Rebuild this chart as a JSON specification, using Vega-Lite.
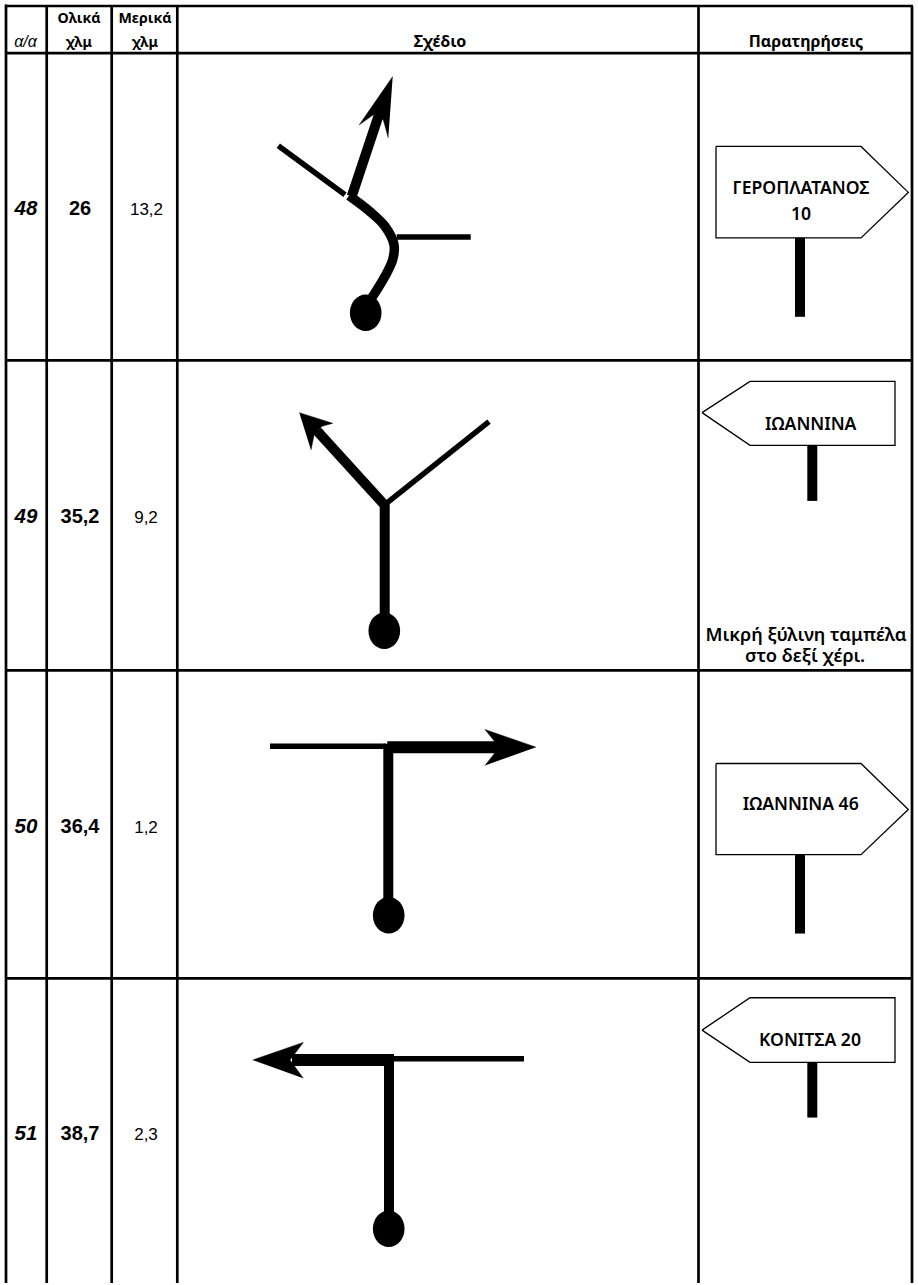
{"$schema":"https://vega.github.io/schema/vega-lite/v6.json","width":918,"height":1285,"padding":0,"autosize":{"type":"fit","contains":"padding"},"background":"white","config":{"view":{"stroke":null}},
"datasets":{
"grid":[{"x":6,"y":4.5,"x2":6,"y2":1285},{"x":46.7,"y":6,"x2":46.7,"y2":1285},{"x":111.7,"y":6,"x2":111.7,"y2":1285},{"x":177.3,"y":6,"x2":177.3,"y2":1285},{"x":698.5,"y":6,"x2":698.5,"y2":1285},{"x":912,"y":6,"x2":912,"y2":1285},{"x":5,"y":6,"x2":913,"y2":6},{"x":5,"y":53.3,"x2":913,"y2":53.3},{"x":5,"y":361,"x2":913,"y2":361},{"x":5,"y":671.5,"x2":913,"y2":671.5},{"x":5,"y":980,"x2":913,"y2":980}],
"posts":[{"x":800,"y":238.3,"x2":800,"y2":317.3},{"x":812.3,"y":446,"x2":812.3,"y2":501.7},{"x":800,"y":856,"x2":800,"y2":935},{"x":812.3,"y":1064,"x2":812.3,"y2":1119.3}],
"thin":[{"x":278.3,"y":146,"x2":345,"y2":195},{"x":396.7,"y":237.3,"x2":470.7,"y2":237.3},{"x":386.7,"y":504,"x2":489,"y2":422.3},{"x":270,"y":747.3,"x2":386,"y2":747.3},{"x":390,"y":1060.3,"x2":524,"y2":1060.3}],
"curve":[{"i":0,"x":349,"y":196},{"i":1,"x":370,"y":212},{"i":2,"x":385,"y":226.7},{"i":3,"x":394,"y":245},{"i":4,"x":392.7,"y":260},{"i":5,"x":385,"y":276.7},{"i":6,"x":372,"y":298}],
"thick":[{"id":"a","i":0,"x":378.3,"y":116.7},{"id":"a","i":1,"x":351.7,"y":196.7},
{"id":"c","i":0,"x":317.3,"y":431.7},{"id":"c","i":1,"x":384.7,"y":506},{"id":"c","i":2,"x":384.7,"y":615},
{"id":"d","i":0,"x":388.3,"y":745},{"id":"d","i":1,"x":388.3,"y":902},
{"id":"g","i":0,"x":389,"y":1062},{"id":"g","i":1,"x":389,"y":1217}],
"bars":[{"x":387.3,"y":748.3,"x2":500,"y2":748.3},{"x":292,"y":1061.7,"x2":394,"y2":1061.7}],
"heads":[{"id":"a","i":0,"x":392.7,"y":76.7},{"id":"a","i":1,"x":359.3,"y":125},{"id":"a","i":2,"x":373.3,"y":115},{"id":"a","i":3,"x":383.3,"y":120},{"id":"a","i":4,"x":388.3,"y":138.3},
{"id":"b","i":0,"x":299.3,"y":413.3},{"id":"b","i":1,"x":332.7,"y":424},{"id":"b","i":2,"x":322,"y":427},{"id":"b","i":3,"x":314,"y":436},{"id":"b","i":4,"x":311,"y":450.7},
{"id":"c","i":0,"x":536,"y":748.3},{"id":"c","i":1,"x":485,"y":730.7},{"id":"c","i":2,"x":499.3,"y":748.3},{"id":"c","i":3,"x":485,"y":766.7},
{"id":"d","i":0,"x":252.7,"y":1061.7},{"id":"d","i":1,"x":303.3,"y":1044},{"id":"d","i":2,"x":290,"y":1061.7},{"id":"d","i":3,"x":303.3,"y":1080}],
"signs":[{"id":"a","i":0,"x":716,"y":146.7},{"id":"a","i":1,"x":861,"y":146.7},{"id":"a","i":2,"x":908.3,"y":192.7},{"id":"a","i":3,"x":861,"y":238.3},{"id":"a","i":4,"x":716,"y":238.3},{"id":"a","i":5,"x":716,"y":146.7},
{"id":"b","i":0,"x":702,"y":413.3},{"id":"b","i":1,"x":750,"y":382},{"id":"b","i":2,"x":895,"y":382},{"id":"b","i":3,"x":895,"y":446},{"id":"b","i":4,"x":750,"y":446},{"id":"b","i":5,"x":702,"y":413.3},
{"id":"c","i":0,"x":716,"y":764.7},{"id":"c","i":1,"x":861,"y":764.7},{"id":"c","i":2,"x":908.3,"y":810.7},{"id":"c","i":3,"x":861,"y":856},{"id":"c","i":4,"x":716,"y":856},{"id":"c","i":5,"x":716,"y":764.7},
{"id":"d","i":0,"x":702,"y":1031.7},{"id":"d","i":1,"x":750,"y":999.3},{"id":"d","i":2,"x":895,"y":999.3},{"id":"d","i":3,"x":895,"y":1064},{"id":"d","i":4,"x":750,"y":1064},{"id":"d","i":5,"x":702,"y":1031.7}],
"dots":[{"x":365.7,"y":313.3},{"x":384.3,"y":631.7},{"x":388.7,"y":916.7},{"x":388.7,"y":1230.7}],
"head":[{"x":79,"y":23.5,"t":"Ολικά"},{"x":145,"y":23.5,"t":"Μερικά"},{"x":79,"y":47,"t":"χλμ"},{"x":145,"y":47,"t":"χλμ"}],
"head2":[{"x":440,"y":47,"t":"Σχέδιο"},{"x":806,"y":47,"t":"Παρατηρήσεις"}],
"aa":[{"x":25.5,"y":47,"t":"α/α"}],
"num":[{"x":26,"y":215.5,"t":"48"},{"x":26,"y":524,"t":"49"},{"x":26,"y":834,"t":"50"},{"x":26,"y":1142,"t":"51"}],
"tot":[{"x":80,"y":215.5,"t":"26"},{"x":80,"y":524,"t":"35,2"},{"x":80,"y":834,"t":"36,4"},{"x":80,"y":1142,"t":"38,7"}],
"part":[{"x":146.5,"y":215.5,"t":"13,2"},{"x":146,"y":524,"t":"9,2"},{"x":146,"y":834,"t":"1,2"},{"x":146,"y":1142,"t":"2,3"}],
"signtext":[{"x":801,"y":194,"t":"ΓΕΡΟΠΛΑΤΑΝΟΣ"},{"x":801,"y":220,"t":"10"},{"x":810.7,"y":431,"t":"ΙΩΑΝΝΙΝΑ"},{"x":800.7,"y":811.7,"t":"ΙΩΑΝΝΙΝΑ 46"},{"x":810,"y":1047.7,"t":"ΚΟΝΙΤΣΑ 20"}],
"notes":[{"x":806,"y":641.7,"t":"Μικρή ξύλινη ταμπέλα"},{"x":805,"y":663,"t":"στο δεξί χέρι."}]},
"encoding":{"x":{"field":"x","type":"quantitative","axis":null,"scale":{"domain":[0,918],"nice":false,"zero":false}},"y":{"field":"y","type":"quantitative","axis":null,"scale":{"domain":[1285,0],"nice":false,"zero":false}}},
"layer":[
{"data":{"name":"signs"},"mark":{"type":"line","stroke":"black","strokeWidth":1.3,"fill":"white","strokeJoin":"miter"},"encoding":{"detail":{"field":"id"},"order":{"field":"i","type":"quantitative"}}},
{"data":{"name":"grid"},"mark":{"type":"rule","stroke":"black","strokeWidth":2.7},"encoding":{"x2":{"field":"x2"},"y2":{"field":"y2"}}},
{"data":{"name":"posts"},"mark":{"type":"rule","stroke":"black","strokeWidth":10},"encoding":{"x2":{"field":"x2"},"y2":{"field":"y2"}}},
{"data":{"name":"thin"},"mark":{"type":"rule","stroke":"black","strokeWidth":5.5},"encoding":{"x2":{"field":"x2"},"y2":{"field":"y2"}}},
{"data":{"name":"thick"},"mark":{"type":"line","stroke":"black","strokeWidth":10,"strokeJoin":"miter"},"encoding":{"detail":{"field":"id"},"order":{"field":"i","type":"quantitative"}}},
{"data":{"name":"curve"},"mark":{"type":"line","stroke":"black","strokeWidth":9.5,"interpolate":"catmull-rom"},"encoding":{"order":{"field":"i","type":"quantitative"}}},
{"data":{"name":"bars"},"mark":{"type":"rule","stroke":"black","strokeWidth":12},"encoding":{"x2":{"field":"x2"},"y2":{"field":"y2"}}},
{"data":{"name":"heads"},"mark":{"type":"line","stroke":"black","strokeWidth":0.5,"fill":"black"},"encoding":{"detail":{"field":"id"},"order":{"field":"i","type":"quantitative"}}},
{"data":{"name":"dots"},"mark":{"type":"point","filled":true,"color":"black","opacity":1,"size":1340,"shape":"M -0.865 0 A 0.865 1 0 1 0 0.865 0 A 0.865 1 0 1 0 -0.865 0 Z"}},
{"data":{"name":"head"},"mark":{"type":"text","font":"Noto Sans","fontWeight":"bold","fontSize":14.2,"align":"center","baseline":"alphabetic","color":"black"},"encoding":{"text":{"field":"t"}}},
{"data":{"name":"head2"},"mark":{"type":"text","font":"Noto Sans","fontWeight":"bold","fontSize":16,"align":"center","baseline":"alphabetic","color":"black"},"encoding":{"text":{"field":"t"}}},
{"data":{"name":"aa"},"mark":{"type":"text","font":"Liberation Sans","fontStyle":"italic","fontSize":16,"align":"center","baseline":"alphabetic","color":"black"},"encoding":{"text":{"field":"t"}}},
{"data":{"name":"num"},"mark":{"type":"text","font":"Liberation Sans","fontStyle":"italic","fontWeight":"bold","fontSize":20.5,"align":"center","baseline":"alphabetic","color":"black"},"encoding":{"text":{"field":"t"}}},
{"data":{"name":"tot"},"mark":{"type":"text","font":"Liberation Sans","fontWeight":"bold","fontSize":20,"align":"center","baseline":"alphabetic","color":"black"},"encoding":{"text":{"field":"t"}}},
{"data":{"name":"part"},"mark":{"type":"text","font":"Liberation Sans","fontSize":17,"align":"center","baseline":"alphabetic","color":"black"},"encoding":{"text":{"field":"t"}}},
{"data":{"name":"signtext"},"mark":{"type":"text","font":"Noto Sans","fontWeight":600,"fontSize":17.6,"align":"center","baseline":"alphabetic","color":"black"},"encoding":{"text":{"field":"t"}}},
{"data":{"name":"notes"},"mark":{"type":"text","font":"Noto Sans","fontWeight":600,"fontSize":18.3,"align":"center","baseline":"alphabetic","color":"black"},"encoding":{"text":{"field":"t"}}}
]}
